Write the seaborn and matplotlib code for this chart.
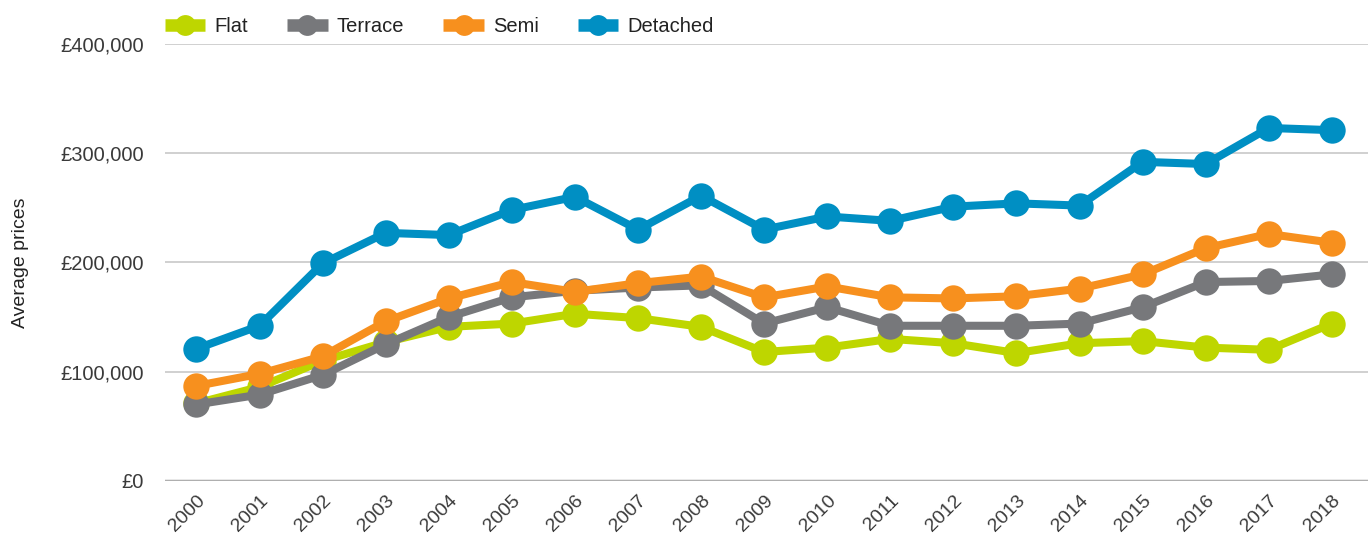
import matplotlib
matplotlib.use("Agg")
import matplotlib.pyplot as plt
import matplotlib.ticker as mticker
import seaborn as sns
import pandas as pd

years = list(range(2000, 2019))

flat = [71000, 86000, 110000, 127000, 141000, 144000, 153000, 149000, 141000,
        118000, 122000, 130000, 126000, 117000, 126000, 128000, 122000, 120000, 144000]
terrace = [70000, 79000, 97000, 125000, 150000, 168000, 174000, 177000, 179000,
           144000, 159000, 142000, 142000, 142000, 144000, 159000, 182000, 183000, 189000]
semi = [87000, 98000, 114000, 146000, 167000, 182000, 173000, 181000, 187000,
        168000, 178000, 168000, 167000, 169000, 176000, 189000, 213000, 226000, 218000]
detached = [121000, 142000, 199000, 227000, 225000, 248000, 260000, 230000, 261000,
            230000, 242000, 238000, 251000, 254000, 252000, 292000, 290000, 323000, 321000]

series_names = ["Flat", "Terrace", "Semi", "Detached"]
colors = ["#BED600", "#77787B", "#F7901E", "#008FC3"]

df = pd.DataFrame({
    "year": years * 4,
    "price": flat + terrace + semi + detached,
    "type": [n for n in series_names for _ in years],
})

sns.set_style("white")
plt.rcParams["font.family"] = ["Liberation Sans", "DejaVu Sans"]

fig = plt.figure(figsize=(13.7, 5.41), dpi=100)
ax = fig.add_axes([0.1204, 0.111, 0.878, 0.808])

sns.lineplot(
    data=df,
    x="year",
    y="price",
    hue="type",
    hue_order=series_names,
    palette=colors,
    marker="o",
    markersize=19,
    markeredgewidth=0,
    linewidth=5.8,
    ax=ax,
)

ax.set_xlim(1999.5, 2018.57)
ax.set_ylim(0, 400000)
ax.set_xticks(years)
ax.set_xticklabels([str(y) for y in years], rotation=45, ha="right",
                   rotation_mode="anchor", fontsize=14, color="#3A3A3A")
ax.set_yticks([0, 100000, 200000, 300000, 400000])
ax.yaxis.set_major_formatter(
    mticker.FuncFormatter(lambda v, p: f"£{int(v):,}")
)
ax.tick_params(axis="y", labelsize=14.5, labelcolor="#3A3A3A", length=0, pad=15)
ax.tick_params(axis="x", length=0, pad=8)

ax.grid(axis="y", color="#C8C8C8", linewidth=1.2)
ax.set_axisbelow(True)
for s in ax.spines.values():
    s.set_visible(False)
ax.axhline(0, color="#333333", linewidth=1.6, zorder=0.5)

ax.set_xlabel("")
ax.set_ylabel("Average prices", fontsize=14, color="#222222", labelpad=10)
ax.yaxis.set_label_coords(-0.113, 0.5)

handles, labels = ax.get_legend_handles_labels()
ax.legend(
    handles,
    labels,
    loc="lower left",
    bbox_to_anchor=(0.1146, 0.918),
    bbox_transform=fig.transFigure,
    ncol=4,
    frameon=False,
    fontsize=14.5,
    handlelength=2.0,
    columnspacing=1.95,
    handletextpad=0.45,
    borderaxespad=0,
)
for t in ax.get_legend().get_texts():
    t.set_color("#222222")
for h in ax.get_legend().legend_handles:
    h.set_markersize(15)
    h.set_linewidth(9)
    h.set_solid_capstyle("butt")

fig.savefig("out.png", dpi=100)
